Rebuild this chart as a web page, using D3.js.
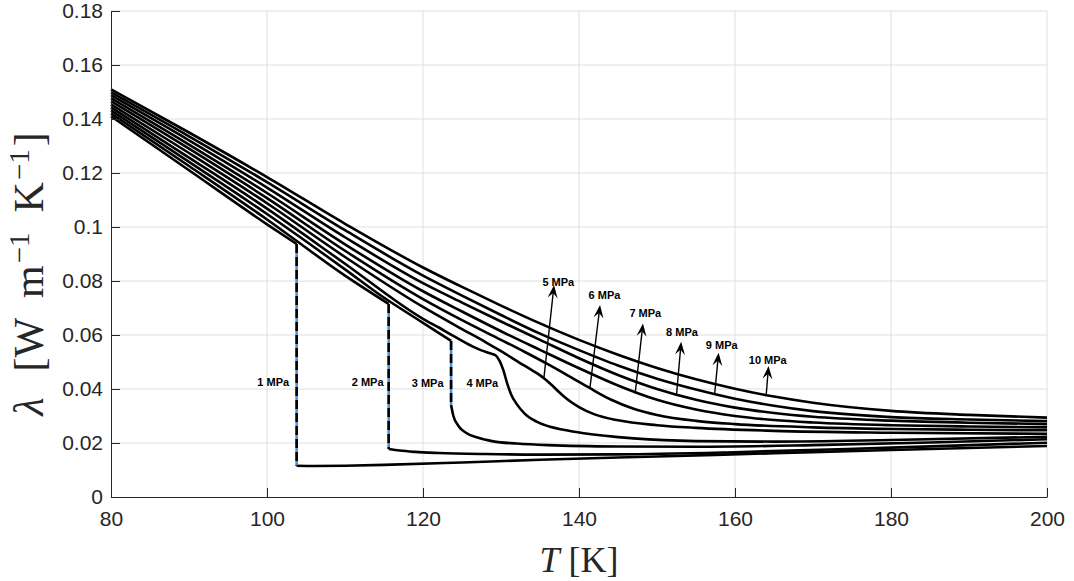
<!DOCTYPE html>
<html>
<head>
<meta charset="utf-8">
<script src="https://cdn.jsdelivr.net/npm/d3@7"></script>
<style>
  body { margin: 0; background: #fff; }
  svg { display: block; }
</style>
</head>
<body>
<svg id="chart" width="1074" height="581"></svg>
<script>
// axis ticks
const xTicks = [80, 100, 120, 140, 160, 180, 200]
const yTicks = [0, 0.02, 0.04, 0.06, 0.08, 0.1, 0.12, 0.14, 0.16, 0.18]

// saturation jumps for the subcritical isobars (1, 2, 3 MPa)
const satT = [103.8, 115.6, 123.6]
const satLiq = [0.0937, 0.0715, 0.0578]
const satVap = [0.0116, 0.0178, 0.0341]

// 1 MPa
const t1Liq = [80, 90, 100, 103.8]
const k1Liq = [0.1410, 0.1210, 0.1010, 0.0937]
const t1Vap = [103.8, 106, 110, 115, 125, 135, 150, 165, 180, 200]
const k1Vap = [0.0116, 0.0115, 0.0116, 0.0119, 0.0128, 0.0138, 0.0150, 0.0162, 0.0174, 0.0189]
// 2 MPa
const t2Liq = [80, 90, 100, 110, 115.6]
const k2Liq = [0.1421, 0.1226, 0.1028, 0.0820, 0.0715]
const t2Vap = [115.6, 117, 119, 122, 128, 135, 145, 160, 180, 200]
const k2Vap = [0.0178, 0.0172, 0.0167, 0.0163, 0.0159, 0.0157, 0.0158, 0.0166, 0.0183, 0.0201]
// 3 MPa
const t3Liq = [80, 90, 100, 110, 114.5, 120, 123.6]
const k3Liq = [0.1432, 0.1241, 0.1048, 0.0843, 0.0748, 0.0645, 0.0578]
const t3Vap = [123.6, 123.9, 124.5, 125.5, 127, 129, 132, 136, 145, 155, 170, 185, 200]
const k3Vap = [0.0341, 0.0300, 0.0265, 0.0238, 0.0220, 0.0206, 0.0198, 0.0192, 0.0187, 0.0186, 0.0192, 0.0202, 0.0214]
// 4 MPa
const t4 = [80, 90, 100, 110, 120, 122.2, 124, 126.4, 127.5, 128.5, 129.3, 129.8, 130.3, 130.8, 131.3, 132, 133, 134.5, 136.3, 138, 140.6, 147, 155, 165, 180, 200]
const k4 = [0.1443, 0.1257, 0.1068, 0.0864, 0.0660, 0.0625, 0.0595, 0.0557, 0.0543, 0.0533, 0.0525, 0.0505, 0.0470, 0.0420, 0.0380, 0.0345, 0.0310, 0.0280, 0.0260, 0.0249, 0.0236, 0.0217, 0.0207, 0.0205, 0.0211, 0.0223]
// 5 MPa
const t5 = [80, 90, 100, 110, 120, 125, 128, 130, 132.4, 134, 135.5, 136.5, 137.5, 138.5, 140, 142, 145, 150, 155, 165, 180, 200]
const k5 = [0.1454, 0.1274, 0.1088, 0.0889, 0.0704, 0.0622, 0.0574, 0.0540, 0.0497, 0.0469, 0.0440, 0.0415, 0.0387, 0.0362, 0.0333, 0.0306, 0.0284, 0.0266, 0.0256, 0.0245, 0.0238, 0.0234]
// 6 MPa
const t6 = [80, 90, 100, 110, 120, 125, 130, 133, 136, 139, 141.4, 144, 147, 150, 155, 160, 170, 180, 190, 200]
const k6 = [0.1466, 0.1290, 0.1107, 0.0912, 0.0733, 0.0655, 0.0582, 0.0538, 0.0492, 0.0443, 0.0403, 0.0362, 0.0327, 0.0304, 0.0282, 0.0270, 0.0258, 0.0252, 0.0249, 0.0247]
// 7 MPa
const t7 = [80, 90, 100, 110, 120, 125, 130, 135, 140, 145, 150, 155, 160, 165, 170, 180, 190, 200]
const k7 = [0.1477, 0.1305, 0.1126, 0.0936, 0.0762, 0.0687, 0.0614, 0.0545, 0.0477, 0.0413, 0.0360, 0.0324, 0.0300, 0.0285, 0.0276, 0.0266, 0.0261, 0.0258]
// 8 MPa
const t8 = [80, 90, 100, 110, 120, 125, 130, 135, 140, 145, 150, 155, 160, 165, 170, 180, 190, 200]
const k8 = [0.1488, 0.1321, 0.1146, 0.0962, 0.0792, 0.0720, 0.0650, 0.0582, 0.0514, 0.0452, 0.0400, 0.0360, 0.0331, 0.0311, 0.0297, 0.0283, 0.0275, 0.0270]
// 9 MPa
const t9 = [80, 90, 100, 110, 120, 125, 130, 135, 140, 145, 150, 155, 160, 165, 170, 180, 190, 200]
const k9 = [0.1499, 0.1336, 0.1166, 0.0988, 0.0820, 0.0746, 0.0674, 0.0605, 0.0544, 0.0487, 0.0438, 0.0398, 0.0364, 0.0338, 0.0318, 0.0296, 0.0287, 0.0281]
// 10 MPa
const t10 = [80, 90, 100, 110, 120, 125, 130, 135, 140, 145, 150, 155, 160, 165, 170, 180, 190, 200]
const k10 = [0.1510, 0.1350, 0.1185, 0.1012, 0.0850, 0.0778, 0.0709, 0.0643, 0.0582, 0.0527, 0.0478, 0.0436, 0.0401, 0.0372, 0.0349, 0.0319, 0.0304, 0.0294]

// plain labels next to the jumps
const jumpLabels = ['1 MPa', '2 MPa', '3 MPa', '4 MPa']
const jumpLabelT = [100.8, 112.9, 120.6, 127.6]
const jumpLabelK = [0.0412, 0.0412, 0.0409, 0.0406]

// arrow annotations for the supercritical isobars
const arrowLabels = ['5 MPa', '6 MPa', '7 MPa', '8 MPa', '9 MPa', '10 MPa']
const arrowFromT = [135.5, 141.4, 147.2, 152.5, 157.4, 164.0]
const arrowFromK = [0.0440, 0.0403, 0.0384, 0.0378, 0.0384, 0.0378]
const arrowToT = [136.8, 142.7, 148.2, 153.1, 157.9, 164.3]
const arrowToK = [0.0785, 0.0711, 0.0643, 0.0575, 0.0534, 0.0485]
const arrowLabelT = [137.35, 143.27, 148.5, 153.2, 158.3, 164.2]
const arrowLabelK = [0.0781, 0.0733, 0.0665, 0.0598, 0.0548, 0.0493]

const zip = (ts, ks) => ts.map((t, i) => [t, ks[i]])
const curves = [
  zip(t1Liq, k1Liq), zip(t1Vap, k1Vap),
  zip(t2Liq, k2Liq), zip(t2Vap, k2Vap),
  zip(t3Liq, k3Liq), zip(t3Vap, k3Vap),
  zip(t4, k4), zip(t5, k5), zip(t6, k6), zip(t7, k7),
  zip(t8, k8), zip(t9, k9), zip(t10, k10)
]

const axisColor = '#262626'
const gridColor = '#dfdfdf'
const tickFont = '"Liberation Sans", Arial, Helvetica, sans-serif'
const serif = '"Liberation Serif", "Times New Roman", serif'

const svg = d3.select('#chart')
const x = d3.scaleLinear().domain([80, 200]).range([111, 1047])
const y = d3.scaleLinear().domain([0, 0.18]).range([497, 11])

// grid
const grid = svg.append('g')
grid.selectAll('.gx').data(xTicks.slice(1)).join('line')
  .attr('x1', d => x(d)).attr('x2', d => x(d))
  .attr('y1', y(0)).attr('y2', y(0.18))
  .attr('stroke', gridColor).attr('stroke-width', 1)
grid.selectAll('.gy').data(yTicks.slice(1)).join('line')
  .attr('x1', x(80)).attr('x2', x(200))
  .attr('y1', d => y(d)).attr('y2', d => y(d))
  .attr('stroke', gridColor).attr('stroke-width', 1)

// curves
const line = d3.line()
  .x(d => x(d[0]))
  .y(d => y(d[1]))
  .curve(d3.curveMonotoneX)

svg.append('g').selectAll('path').data(curves).join('path')
  .attr('d', line)
  .attr('fill', 'none')
  .attr('stroke', '#000')
  .attr('stroke-width', 2.6)
  .attr('stroke-linejoin', 'round')

// saturation jumps: blue underneath, black dashes on top
const jumps = svg.append('g')
jumps.selectAll('.blue').data(satT).join('line')
  .attr('x1', d => x(d)).attr('x2', d => x(d))
  .attr('y1', (d, i) => y(satLiq[i])).attr('y2', (d, i) => y(satVap[i]))
  .attr('stroke', '#4a92e0').attr('stroke-width', 2.6)
jumps.selectAll('.black').data(satT).join('line')
  .attr('x1', d => x(d)).attr('x2', d => x(d))
  .attr('y1', (d, i) => y(satLiq[i])).attr('y2', (d, i) => y(satVap[i]))
  .attr('stroke', '#000').attr('stroke-width', 2.6)
  .attr('stroke-dasharray', '9,4')

// axes
const xAxis = d3.axisBottom(x).tickValues(xTicks).tickSizeInner(-9).tickSizeOuter(0).tickPadding(14)
const yAxis = d3.axisLeft(y).tickValues(yTicks).tickFormat(d3.format('~g'))
  .tickSizeInner(-9).tickSizeOuter(0).tickPadding(8)

const gx = svg.append('g').attr('transform', `translate(0,${y(0)})`).call(xAxis)
const gy = svg.append('g').attr('transform', `translate(${x(80)},0)`).call(yAxis)
for (const g of [gx, gy]) {
  g.select('.domain').attr('stroke', axisColor)
  g.selectAll('.tick line').attr('stroke', axisColor)
  g.selectAll('.tick text')
    .attr('fill', axisColor)
    .style('font-family', tickFont)
    .style('font-size', '21px')
}

// axis titles
const xl = svg.append('text')
  .attr('x', 579).attr('y', 572)
  .attr('text-anchor', 'middle')
  .style('font-family', serif).style('font-size', '36px')
  .attr('fill', axisColor)
xl.append('tspan').style('font-style', 'italic').text('T')
xl.append('tspan').attr('dx', 9).text('[K]')

const yl = svg.append('text')
  .attr('transform', 'translate(43,274) rotate(-90)')
  .attr('text-anchor', 'middle')
  .style('font-family', serif).style('font-size', '42px')
  .attr('fill', axisColor)
yl.append('tspan').style('font-style', 'italic').text('λ')
yl.append('tspan').attr('dx', 26).text('[W')
yl.append('tspan').attr('dx', 20).text('m')
yl.append('tspan').attr('dx', 2).attr('dy', -14).style('font-size', '29px').text('−1')
yl.append('tspan').attr('dx', 20).attr('dy', 14).text('K')
yl.append('tspan').attr('dx', 2).attr('dy', -14).style('font-size', '29px').text('−1')
yl.append('tspan').attr('dx', 3).attr('dy', 14).text(']')

// labels beside the jumps
svg.append('g').selectAll('text').data(jumpLabels).join('text')
  .attr('x', (d, i) => x(jumpLabelT[i]))
  .attr('y', (d, i) => y(jumpLabelK[i]))
  .attr('text-anchor', 'middle')
  .style('font-family', tickFont).style('font-size', '11px').style('font-weight', 'bold')
  .text(d => d)

// arrows
const arrows = svg.append('g')
arrowLabels.forEach((lab, i) => {
  const x0 = x(arrowFromT[i]), y0 = y(arrowFromK[i])
  const x1 = x(arrowToT[i]), y1 = y(arrowToK[i])
  const len = Math.hypot(x1 - x0, y1 - y0)
  const ux = (x1 - x0) / len, uy = (y1 - y0) / len
  const px = -uy, py = ux
  const L = 13, W = 5, N = 8
  arrows.append('line')
    .attr('x1', x0).attr('y1', y0)
    .attr('x2', x1 - N * ux).attr('y2', y1 - N * uy)
    .attr('stroke', '#000').attr('stroke-width', 1.4)
  arrows.append('path')
    .attr('d', `M${x1},${y1}L${x1 - L * ux + W * px},${y1 - L * uy + W * py}` +
      `L${x1 - N * ux},${y1 - N * uy}L${x1 - L * ux - W * px},${y1 - L * uy - W * py}Z`)
    .attr('fill', '#000')
  arrows.append('text')
    .attr('x', x(arrowLabelT[i])).attr('y', y(arrowLabelK[i]))
    .attr('text-anchor', 'middle')
    .style('font-family', tickFont).style('font-size', '11px').style('font-weight', 'bold')
    .text(lab)
})
</script>
</body>
</html>
